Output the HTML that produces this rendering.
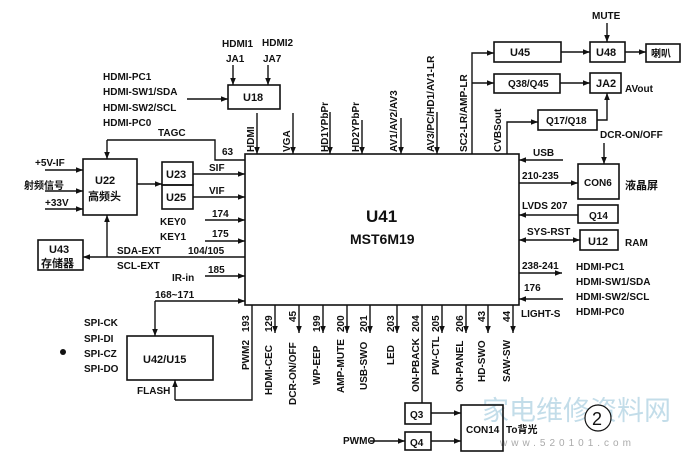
<!DOCTYPE html>
<html><head><meta charset="utf-8"><style>
html,body{margin:0;padding:0;background:#fff}
svg{display:block}
text{font-family:"Liberation Sans","Noto Sans CJK SC",sans-serif;font-weight:bold;fill:#111;font-size:10px}
.b{font-size:11px}
</style></head><body>
<svg width="697" height="467" viewBox="0 0 697 467" xmlns="http://www.w3.org/2000/svg">
<defs>
<marker id="a" viewBox="0 0 10 10" refX="10" refY="5" markerWidth="7" markerHeight="7" orient="auto-start-reverse" markerUnits="userSpaceOnUse"><path d="M0,1 L10,5 L0,9 z" fill="#111"/></marker>
</defs>
<text x="482" y="420" style="font-size:27px;font-weight:normal;fill:#9cc7dc;opacity:.6">家电维修资料网</text>
<text x="500" y="446" style="font-size:10px;font-weight:normal;fill:#aaa;letter-spacing:4px">www.520101.com</text>
<g stroke="#111" stroke-width="1.6" fill="none">
<rect x="245" y="154" width="274" height="151"/>
<rect x="83" y="159" width="54" height="56"/>
<rect x="162" y="162" width="31" height="23"/>
<rect x="162" y="185" width="31" height="24"/>
<rect x="38" y="240" width="45" height="30"/>
<rect x="127" y="336" width="86" height="44"/>
<rect x="228" y="85" width="52" height="24"/>
<rect x="494" y="42" width="67" height="20"/>
<rect x="590" y="42" width="35" height="20"/>
<rect x="646" y="44" width="34" height="18"/>
<rect x="494" y="74" width="66" height="19"/>
<rect x="590" y="73" width="31" height="20"/>
<rect x="538" y="110" width="59" height="20"/>
<rect x="578" y="164" width="41" height="35"/>
<rect x="578" y="205" width="40" height="18"/>
<rect x="580" y="230" width="38" height="20"/>
<rect x="405" y="403" width="26" height="21"/>
<rect x="405" y="432" width="26" height="18"/>
<rect x="461" y="405" width="42" height="46"/>
</g>
<g stroke="#111" stroke-width="1.4" fill="none" marker-end="url(#a)">
<path d="M233 65V85"/><path d="M268 65V85"/>
<path d="M187 99H228"/>
<path d="M257 113V154"/><path d="M293 113V154"/><path d="M330 112V154"/>
<path d="M362 120V154"/><path d="M401 118V154"/><path d="M437 112V154"/>
<path d="M472 154V53H494"/><path d="M472 83H494"/>
<path d="M561 52H590"/><path d="M625 52H646"/>
<path d="M607 23V42"/>
<path d="M560 83H590"/>
<path d="M597 120H607V93"/>
<path d="M507 154V122H538"/>
<path d="M604 143V164"/>
<path d="M563 160H519"/>
<path d="M519 183H578"/>
<path d="M578 215H519"/>
<path d="M519 240H580" marker-start="url(#a)"/>
<path d="M519 273H562"/>
<path d="M563 299H519"/>
<path d="M107 140V159"/>
<path d="M45 170H83"/><path d="M45 191H83"/><path d="M45 209H83"/>
<path d="M137 184H162"/>
<path d="M193 174H245"/><path d="M193 197H245"/>
<path d="M205 220H245"/><path d="M205 241H245"/>
<path d="M107 257V215"/>
<path d="M245 257H83"/>
<path d="M205 276H245"/>
<path d="M155 301V336"/>
<path d="M175 400V380"/>
<path d="M275 305V333"/><path d="M299 305V333"/><path d="M323 305V333"/><path d="M347 305V333"/><path d="M370 305V333"/><path d="M397 305V333"/><path d="M442 305V333"/><path d="M466 305V333"/><path d="M488 305V333"/><path d="M513 305V333"/>
<path d="M431 413H461"/><path d="M431 441H461"/><path d="M370 441H405"/>
</g>
<g stroke="#111" stroke-width="1.4" fill="none">
<path d="M107 140H215V160H245"/>
<path d="M155 301H245" marker-end="url(#a)"/>
<path d="M252 305V400H175"/>
<path d="M422 305V403"/>
</g>
<circle cx="63" cy="352" r="3" fill="#111"/>
<text x="222" y="47">HDMI1</text><text x="226" y="62">JA1</text>
<text x="262" y="46">HDMI2</text><text x="263" y="62">JA7</text>
<text x="103" y="80">HDMI-PC1</text><text x="103" y="95">HDMI-SW1/SDA</text>
<text x="103" y="111">HDMI-SW2/SCL</text><text x="103" y="126">HDMI-PC0</text>
<text x="243" y="101" class="b">U18</text>
<text x="158" y="136">TAGC</text><text x="222" y="155">63</text>
<text x="35" y="166">+5V-IF</text><text x="24" y="189">射频信号</text><text x="45" y="206">+33V</text>
<text x="95" y="184" class="b">U22</text><text x="88" y="200" class="b">高频头</text>
<text x="166" y="178" class="b">U23</text><text x="166" y="201" class="b">U25</text>
<text x="209" y="171">SIF</text><text x="209" y="194">VIF</text>
<text x="212" y="217">174</text><text x="212" y="237">175</text>
<text x="160" y="225">KEY0</text><text x="160" y="240">KEY1</text>
<text x="49" y="253" class="b">U43</text><text x="41" y="267" class="b">存储器</text>
<text x="117" y="254">SDA-EXT</text><text x="188" y="254">104/105</text>
<text x="117" y="269">SCL-EXT</text>
<text x="172" y="281">IR-in</text><text x="208" y="273">185</text>
<text x="155" y="298">168~171</text>
<text x="84" y="326">SPI-CK</text><text x="84" y="342">SPI-DI</text>
<text x="84" y="357">SPI-CZ</text><text x="84" y="372">SPI-DO</text>
<text x="143" y="363" class="b">U42/U15</text>
<text x="137" y="394">FLASH</text>
<text x="366" y="222" style="font-size:17px">U41</text>
<text x="350" y="244" style="font-size:14px">MST6M19</text>
<g>
<text transform="translate(254,152) rotate(-90)">HDMI</text>
<text transform="translate(290,152) rotate(-90)">VGA</text>
<text transform="translate(328,152) rotate(-90)">HD1YPbPr</text>
<text transform="translate(359,152) rotate(-90)">HD2YPbPr</text>
<text transform="translate(397,152) rotate(-90)">AV1/AV2/AV3</text>
<text transform="translate(434,152) rotate(-90)">AV3/PC/HD1/AV1-LR</text>
<text transform="translate(467,152) rotate(-90)">SC2-LR/AMP-LR</text>
<text transform="translate(501,152) rotate(-90)">CVBSout</text>
</g>
<text x="510" y="56" class="b">U45</text><text x="596" y="56" class="b">U48</text>
<text x="651" y="57">喇叭</text><text x="592" y="19">MUTE</text>
<text x="508" y="87">Q38/Q45</text><text x="596" y="87" class="b">JA2</text>
<text x="625" y="92">AVout</text><text x="546" y="124">Q17/Q18</text>
<text x="600" y="138">DCR-ON/OFF</text>
<text x="533" y="156">USB</text><text x="522" y="179">210-235</text>
<text x="584" y="186">CON6</text><text x="625" y="189" class="b">液晶屏</text>
<text x="522" y="209">LVDS 207</text><text x="589" y="219">Q14</text>
<text x="527" y="235">SYS-RST</text><text x="588" y="245" class="b">U12</text><text x="625" y="246">RAM</text>
<text x="522" y="269">238-241</text><text x="524" y="291">176</text><text x="521" y="317">LIGHT-S</text>
<text x="576" y="270">HDMI-PC1</text><text x="576" y="285">HDMI-SW1/SDA</text>
<text x="576" y="300">HDMI-SW2/SCL</text><text x="576" y="315">HDMI-PC0</text>
<g>
<text transform="translate(249,332) rotate(-90)">193</text>
<text transform="translate(249,370) rotate(-90)">PWM2</text>
<text transform="translate(272,332) rotate(-90)">129</text>
<text transform="translate(272,395) rotate(-90)">HDMI-CEC</text>
<text transform="translate(296,322) rotate(-90)">45</text>
<text transform="translate(296,405) rotate(-90)">DCR-ON/OFF</text>
<text transform="translate(320,332) rotate(-90)">199</text>
<text transform="translate(320,385) rotate(-90)">WP-EEP</text>
<text transform="translate(344,332) rotate(-90)">200</text>
<text transform="translate(344,393) rotate(-90)">AMP-MUTE</text>
<text transform="translate(367,332) rotate(-90)">201</text>
<text transform="translate(367,390) rotate(-90)">USB-SWO</text>
<text transform="translate(394,332) rotate(-90)">203</text>
<text transform="translate(394,365) rotate(-90)">LED</text>
<text transform="translate(419,332) rotate(-90)">204</text>
<text transform="translate(419,392) rotate(-90)">ON-PBACK</text>
<text transform="translate(439,332) rotate(-90)">205</text>
<text transform="translate(439,375) rotate(-90)">PW-CTL</text>
<text transform="translate(463,332) rotate(-90)">206</text>
<text transform="translate(463,392) rotate(-90)">ON-PANEL</text>
<text transform="translate(485,322) rotate(-90)">43</text>
<text transform="translate(485,382) rotate(-90)">HD-SWO</text>
<text transform="translate(510,322) rotate(-90)">44</text>
<text transform="translate(510,382) rotate(-90)">SAW-SW</text>
</g>
<text x="410" y="418">Q3</text><text x="410" y="446">Q4</text>
<text x="466" y="433">CON14</text><text x="506" y="433">To背光</text>
<text x="343" y="444">PWMO</text>
<circle cx="598" cy="418" r="13" fill="#fff" stroke="#111" stroke-width="1.2"/>
<text x="592" y="425" style="font-size:18px;font-weight:normal">2</text>
</svg>
</body></html>
